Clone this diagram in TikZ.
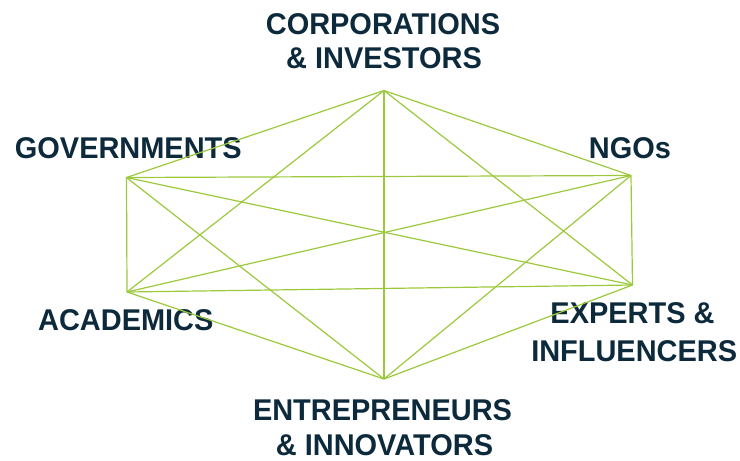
\documentclass[tikz,border=0pt]{standalone}
\usepackage{fontspec}
\setmainfont{Liberation Sans}[FakeStretch=0.965]
\definecolor{navy}{HTML}{0C2A3B}
\definecolor{leaf}{HTML}{9CC93C}
\begin{document}
\begin{tikzpicture}[x=1pt,y=-1pt,
  label/.style={text=navy,font=\fontsize{30}{35}\selectfont\bfseries,anchor=base,inner sep=0pt},
  link/.style={draw=leaf,line width=1.2pt}]
\useasboundingbox (0,0) rectangle (740,461);
% stakeholder labels
\node[label] (corp1) at (383,34) {CORPORATIONS};
\node[label] (corp2) at (384,68.5) {\& INVESTORS};
\node[label] (gov) at (128.3,158.3) {GOVERNMENTS};
\node[label] (ngo) at (630,158) {NGOs};
\node[label] (acad) at (125.8,330) {ACADEMICS};
\node[label] (exp1) at (632.5,323.3) {EXPERTS \&};
\node[label] (exp2) at (634.2,361.7) {INFLUENCERS};
\node[label] (ent1) at (382.5,420) {ENTREPRENEURS};
\node[label] (ent2) at (384.5,455.3) {\& INNOVATORS};
% hexagon corners
\coordinate (T) at (384,90.5);
\coordinate (UL) at (126.5,177.5);
\coordinate (UR) at (631,175.5);
\coordinate (LL) at (127,292);
\coordinate (LR) at (632.5,285);
\coordinate (B) at (384,379);
% every corner joined to every other corner
\foreach \a/\b in {T/UL,T/UR,T/LL,T/LR,T/B,UL/UR,UL/LL,UL/LR,UL/B,UR/LL,UR/LR,UR/B,LL/LR,LL/B,LR/B}
  \draw[link] (\a) -- (\b);
\end{tikzpicture}
\end{document}
